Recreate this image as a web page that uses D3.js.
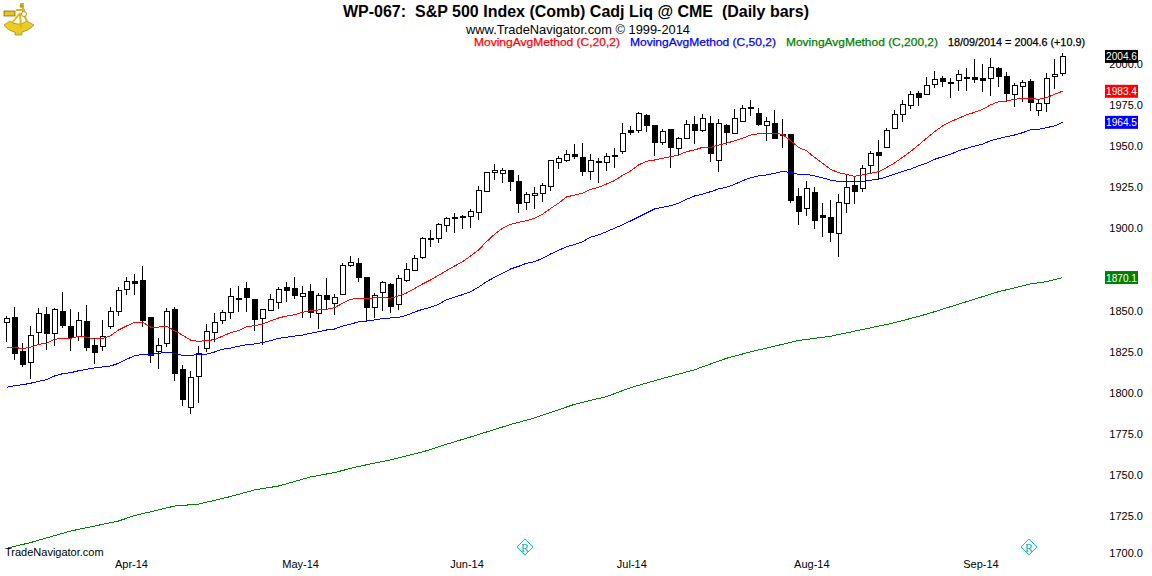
<!DOCTYPE html>
<html>
<head>
<meta charset="utf-8">
<script src="https://cdn.jsdelivr.net/npm/d3@7"></script>
<style>
    html, body { margin: 0; padding: 0; background: #fff; overflow: hidden; }
    text { font-family: "Liberation Sans", Arial, sans-serif; }
</style>
</head>
<body>
<script>
// daily bars
let opens = [
    1842.9,1845.9,1825.2,1818.5,1836.8,1847.7,1836.2,1849.6,1840.4,1834.7,
    1843.5,1828.9,1828.3,1840.4,1849.6,1863,1867.8,1868.4,1845.9,1825.2,
    1830.1,1850.8,1814.3,1791.2,1810,1827.1,1836.8,1844.1,1849,1857,
    1863.6,1856.9,1845.3,1850.2,1855,1864.2,1863.6,1858.7,1861.7,1848.4,
    1859.3,1854.4,1859.9,1877.5,1878.8,1870.2,1852,1861.1,1866,1853.8,
    1868.4,1874.5,1882.8,1893.5,1894,1901.9,1906.7,1906.9,1907.4,1909.8,
    1922.6,1934.1,1933.5,1935.3,1928.6,1915.9,1920.1,1921.3,1925.6,1940.2,
    1941.4,1945.1,1943.2,1934.7,1940.4,1940.2,1944.5,1946.9,1959.7,1959.7,
    1968.8,1962.7,1952.4,1960.3,1948.7,1954.8,1963.3,1959.7,1963.9,1941.4,
    1962.7,1957.8,1965.1,1973.7,1970,1962.7,1963.9,1957.2,1957.2,1919.5,
    1912.2,1922,1908,1906.7,1897,1915.3,1926.2,1924.4,1938.4,1946.3,
    1949.3,1960.9,1969.4,1974.9,1982.2,1981.6,1987.7,1991.3,1988.4,1990.1,
    1991.9,1991.9,1991.3,1991.3,1997.4,1992.5,1981.6,1986.4,1989.5,1971.8,
    1976.1,1992.5,1994.3
];
let highs = [
    1846.7,1852,1830.1,1840.6,1851.4,1852,1851.4,1861.3,1850.8,1849,
    1853.2,1833.1,1844.3,1852,1864.2,1870.2,1872.3,1877.1,1845.9,1833.1,
    1851.4,1852,1816.7,1813.1,1828.3,1841.7,1848.4,1850.2,1863.6,1864.8,
    1867.4,1856.9,1850.8,1859.9,1864.2,1867.4,1870.2,1864.8,1866,1860.7,
    1869.6,1859.9,1878.8,1883,1881.8,1870.3,1860.5,1867.8,1866.6,1871.5,
    1878.8,1883.6,1894.6,1899,1903.1,1906.7,1909.2,1908,1911.6,1925.6,
    1934.1,1939,1936.6,1935.3,1932.3,1922,1925,1927.4,1941.4,1943.9,
    1947.5,1951.2,1951.8,1945.1,1942.6,1945.7,1948.7,1963.9,1962.1,1970.6,
    1969.4,1962.7,1960.3,1960.3,1955.4,1965.8,1968.2,1969.4,1968.2,1966.4,
    1963.3,1972.4,1974.9,1977.9,1973.1,1967.6,1971.8,1966.4,1957.2,1924.4,
    1928.6,1925,1915.3,1917.1,1920.7,1932.9,1931.1,1938.4,1946.9,1953.6,
    1960.9,1971.8,1977.9,1983.4,1983.4,1991.9,1995.6,1992.5,1991.3,1996.2,
    1997.4,2002.9,1999.8,2003.5,1998,1995,1988.3,1990.1,1990.7,1978.5,
    1994.3,2002.9,2006.5
];
let lows = [
    1831.7,1820.7,1816.5,1809.2,1830.5,1826.8,1829.2,1840.2,1826.2,1832.3,
    1826.2,1818.3,1826.2,1839.6,1847.5,1860.1,1860.1,1840.8,1818.9,1815.3,
    1828.6,1808,1792.8,1787.9,1794.4,1825.6,1831.7,1842.3,1845.7,1849.6,
    1849.6,1838,1829.5,1850.2,1851.4,1856,1857.5,1845.9,1846.3,1839.6,
    1850.8,1847.7,1859.9,1876.9,1867.8,1843.5,1845.9,1850.2,1849,1851.1,
    1867.8,1874.5,1881.8,1889.5,1891.9,1898.6,1898,1900.4,1901,1905.9,
    1922.6,1930,1928.4,1923.5,1909.8,1911.6,1912.2,1916.5,1923.2,1936.6,
    1940.8,1942.6,1932.3,1929.9,1928,1935.3,1937.2,1945.7,1957.2,1958.5,
    1959.1,1944.8,1951.2,1937.5,1944.5,1954.8,1952.1,1959.1,1941.2,1935.1,
    1951.2,1957.8,1965.1,1968.8,1962.7,1953.6,1954.8,1949.3,1915.9,1902.5,
    1908,1900.1,1895.2,1892.1,1883,1909.8,1915.6,1922.9,1934.1,1929.9,
    1949.3,1960.9,1965.1,1973.1,1974.9,1981.6,1985.8,1986.4,1979.7,1984.2,
    1984.2,1988.9,1983.4,1981,1986.4,1977.3,1974.3,1977.3,1971.8,1968.8,
    1971.2,1985.2,1993.1
];
let closes = [
    1845.3,1824.4,1817.7,1835.3,1848.4,1836.5,1850.8,1841.4,1834.1,1844.1,
    1827.7,1825,1834.7,1849.6,1862.3,1867.8,1867,1844.5,1822.8,1829.2,
    1849.6,1811.9,1796.4,1809.4,1824.4,1837.4,1842.9,1849,1858.7,1857.7,
    1858.1,1844.7,1850.8,1856.9,1863,1862.3,1859.3,1860.5,1849,1859.3,
    1856.9,1858.1,1877.5,1879.4,1870.2,1852,1859.3,1867.2,1852.6,1869.6,
    1875.1,1881.8,1894,1894.2,1902.5,1906.1,1906.1,1907.5,1910.4,1923.2,
    1934.1,1935.3,1935.3,1928.6,1915.3,1920.7,1921.3,1926.2,1941.4,1942.6,
    1945.1,1944.2,1935.1,1941.4,1941,1943.9,1943.9,1957.8,1958.8,1970,
    1963.1,1952.4,1959.1,1949.7,1954.8,1963.3,1960,1967,1945.7,1963.9,
    1958.5,1967,1973.1,1973.1,1963.3,1965.1,1955.2,1956.6,1917.1,1910.4,
    1924.4,1904.9,1906.7,1897.6,1915.9,1925,1922.6,1936.6,1945.7,1944.5,
    1959.7,1969.4,1975.5,1981.6,1979.7,1987,1990.7,1989.5,1989.1,1993.7,
    1991.3,1990.7,1990.1,1998,1992.5,1982.2,1987,1988.9,1976.7,1976.1,
    1991.3,1993.7,2004.6
];

// moving averages
let ma20 = [
    1827.7,1827.7,1826.8,1827.7,1829.5,1830.1,1832.5,1833.1,1833.1,1834.4,
    1833.8,1832.7,1833.1,1834.7,1838.2,1840.6,1842.9,1842.9,1840,1840,
    1840.6,1837.8,1835.1,1832.1,1831.3,1831.8,1832.3,1834.5,1836.5,1837.8,
    1840.2,1840.8,1841.7,1843.8,1845.5,1846.7,1847.5,1849,1849.9,1850.4,
    1850.8,1851.8,1854.4,1856.9,1857.5,1857.2,1857.8,1858.1,1857.5,1858.9,
    1860.7,1863.4,1866.2,1868.6,1871.5,1874.3,1877.1,1879.7,1883.2,1886.9,
    1891.9,1896.4,1900.1,1902.5,1903.7,1904.7,1906.2,1908.6,1912.1,1915.3,
    1919.1,1920.3,1921.3,1923.8,1925,1927,1929.1,1932.3,1934.9,1938.6,
    1940.8,1941.6,1942.6,1943.6,1944.6,1946.7,1947.7,1949.3,1949.3,1950.7,
    1951.8,1953.3,1954.8,1956.8,1957.6,1957.8,1957.8,1957.2,1953.5,1949.3,
    1947.2,1943.2,1939.6,1935.9,1933.9,1932.9,1931.7,1932.5,1933.5,1934.5,
    1937,1939.8,1943.2,1946.7,1950.7,1954.8,1958.8,1962.3,1964.9,1967,
    1969,1970.6,1972.4,1975.1,1977.1,1977.5,1978.5,1979.1,1979.1,1978.5,
    1979.5,1981.6,1983.4
];
let ma50 = [
    1803.3,1804.3,1804.9,1805.8,1807,1808,1810.2,1811.6,1812.2,1813.4,
    1814.3,1815.1,1815.7,1816.3,1817.9,1820.4,1822.4,1823.4,1823.4,1824,
    1824.6,1824,1822.8,1822.8,1823.2,1823.5,1824.8,1826.5,1827.2,1828.3,
    1829.2,1829.7,1830.5,1831.7,1833.1,1833.8,1834.5,1835.1,1836.2,1837.2,
    1838.2,1838.8,1840.6,1841.8,1843.1,1843.7,1844.3,1845.1,1845.5,1845.9,
    1847.1,1849.1,1850.8,1852,1853.8,1856.6,1858.1,1859.7,1861.5,1864.2,
    1867.6,1870.2,1872.7,1875.3,1876.9,1878.8,1879.7,1881.8,1884.4,1886.6,
    1888.9,1890.1,1891.9,1894.6,1896,1898,1900.1,1902.2,1904.5,1906.9,
    1909.4,1911.8,1912.8,1913.8,1915.3,1917.7,1919.7,1920.9,1922.3,1924,
    1925,1926.8,1929,1930.8,1931.9,1932.5,1933.5,1934.6,1934.1,1932.9,
    1932.9,1931.9,1930.8,1929.4,1928.6,1928.6,1928.6,1928.6,1929.3,1929.9,
    1931.3,1933,1934.7,1936.1,1938,1939.6,1942,1943.6,1945.1,1947.1,
    1948.7,1950.1,1951.3,1953.3,1954.6,1955.8,1956.8,1958.2,1959.9,1960.3,
    1961.3,1962.3,1964.5
];
let ma200Bars = [0,3,8,14,16,21,24,28,31,34,38,41,44,48,52,55,58,63,66,71,75,78,82,86,90,93,99,103,107,111,115,120,124,128,130,132];
let ma200 = [
    1705.4,1708.9,1715.9,1722,1725.3,1731.1,1732.3,1736.9,1740.9,1743.3,
    1748.8,1751.5,1755.2,1759.2,1764,1768.7,1773.1,1780.7,1784.7,1793,
    1797.7,1803.1,1808.7,1814,1821,1824.9,1831.8,1834.4,1838.5,1842.6,
    1847.8,1855.4,1861.5,1866.2,1867.6,1870.1
];

// axis labels and flags (1875.0 is not printed, the green box takes its place)
let priceTicks = [2000,1975,1950,1925,1900,1850,1825,1800,1775,1750,1725,1700];
let monthBars = [15.56,36.7,57.5,78.1,100.6,121.75];
let monthLabels = ["Apr-14","May-14","Jun-14","Jul-14","Aug-14","Sep-14"];
let flagBars = [64.8,127.8];
let lastValues = [2004.6,1983.4,1964.5,1870.1];
let lastColors = ["#000000","#ff0000","#0000ff","#008000"];
let legendLabels = ["MovingAvgMethod (C,20,2)","MovingAvgMethod (C,50,2)","MovingAvgMethod (C,200,2)","18/09/2014 = 2004.6 (+10.9)"];
let legendColors = ["#ff0000","#0000ff","#008000","#000000"];
let legendX = [474,630,786,948];
let legendW = [146,146,152,137];

let width = 1152;
let height = 576;

let svg = d3.select("body")
    .append("svg")
    .attr("width", width)
    .attr("height", height)
    .style("display", "block");

let x = d3.scaleLinear().domain([0, 132]).range([6.5, 1062.5]);
let y = d3.scaleLinear().domain([1700, 2000]).range([557.2, 64]);

// price axis
let axisY = d3.axisRight(y)
    .tickValues(priceTicks)
    .tickSize(0)
    .tickFormat(d3.format(".1f"));
let gY = svg.append("g")
    .attr("transform", "translate(1143, 0)")
    .call(axisY);
gY.select(".domain").remove();
gY.selectAll("text")
    .attr("x", 0)
    .attr("text-anchor", "end")
    .style("font-size", "11px")
    .attr("fill", "#000");
// lowest label sits above its level in the original
gY.selectAll(".tick").filter(d => d === 1700).select("text").attr("dy", "-0.05em");

// month axis
let axisX = d3.axisBottom(x)
    .tickValues(monthBars)
    .tickSize(0)
    .tickFormat((d, i) => monthLabels[i]);
let gX = svg.append("g")
    .attr("transform", "translate(0, 557)")
    .call(axisX);
gX.select(".domain").remove();
gX.selectAll("text")
    .attr("y", 3)
    .style("font-size", "11px")
    .attr("fill", "#000");

// candles
let bars = d3.range(opens.length);
let candles = svg.append("g").attr("shape-rendering", "crispEdges");
candles.selectAll("line")
    .data(bars)
    .join("line")
    .attr("x1", i => x(i))
    .attr("x2", i => x(i))
    .attr("y1", i => Math.round(y(highs[i])))
    .attr("y2", i => Math.round(y(lows[i])) + 1)
    .attr("stroke", "#000")
    .attr("stroke-width", 1);
candles.selectAll("rect")
    .data(bars)
    .join("rect")
    .attr("x", i => x(i) - 2)
    .attr("width", 5)
    .attr("y", i => Math.round(y(Math.max(opens[i], closes[i]))) + 0.5)
    .attr("height", i => Math.round(y(Math.min(opens[i], closes[i]))) - Math.round(y(Math.max(opens[i], closes[i]))))
    .attr("fill", i => closes[i] >= opens[i] ? "#fff" : "#000")
    .attr("stroke", "#000")
    .attr("stroke-width", 1);

// moving averages
let line = d3.line().x(d => x(d[0])).y(d => y(d[1]));
let maLines = [
    [bars.map(i => [i, ma20[i]]), "#ff0000"],
    [bars.map(i => [i, ma50[i]]), "#0000ff"],
    [ma200Bars.map((b, i) => [b, ma200[i]]), "#008000"]
];
svg.append("g").selectAll("path")
    .data(maLines)
    .join("path")
    .attr("d", d => line(d[0]))
    .attr("fill", "none")
    .attr("stroke", d => d[1])
    .attr("stroke-width", 1)
    .attr("shape-rendering", "crispEdges");

// last value boxes
svg.append("g").selectAll("rect")
    .data(lastValues)
    .join("rect")
    .attr("x", 1105)
    .attr("width", 33)
    .attr("y", d => y(d) - 6.5)
    .attr("height", 13)
    .attr("fill", (d, i) => lastColors[i]);
svg.append("g").selectAll("text")
    .data(lastValues)
    .join("text")
    .attr("x", 1121.5)
    .attr("y", d => y(d) + 4)
    .attr("text-anchor", "middle")
    .attr("fill", "#fff")
    .attr("textLength", 31)
    .attr("lengthAdjust", "spacingAndGlyphs")
    .style("font-size", "11px")
    .text(d => d.toFixed(1));

// title block
svg.append("text")
    .attr("x", 576)
    .attr("y", 17)
    .attr("text-anchor", "middle")
    .attr("xml:space", "preserve")
    .style("white-space", "pre")
    .style("font-size", "16px")
    .style("font-weight", "bold")
    .text("WP-067:  S&P 500 Index (Comb) Cadj Liq @ CME  (Daily bars)");
svg.append("text")
    .attr("x", 466)
    .attr("y", 34)
    .attr("textLength", 224)
    .attr("lengthAdjust", "spacingAndGlyphs")
    .style("font-size", "13px")
    .text("www.TradeNavigator.com © 1999-2014");
svg.append("g").selectAll("text")
    .data(legendLabels)
    .join("text")
    .attr("x", (d, i) => legendX[i])
    .attr("y", 46)
    .attr("fill", (d, i) => legendColors[i])
    .attr("stroke", (d, i) => legendColors[i])
    .attr("stroke-width", 0.25)
    .attr("textLength", (d, i) => legendW[i])
    .attr("lengthAdjust", "spacingAndGlyphs")
    .style("font-size", "11px")
    .text(d => d);

svg.append("text")
    .attr("x", 5)
    .attr("y", 556)
    .style("font-size", "11px")
    .text("TradeNavigator.com");

// R flags
let flags = svg.append("g").selectAll("g")
    .data(flagBars)
    .join("g")
    .attr("transform", d => `translate(${x(d)}, 547)`);
flags.append("path")
    .attr("d", "M0,-8L8,0L0,8L-8,0Z")
    .attr("fill", "none")
    .attr("stroke", "#00c8c8")
    .attr("stroke-width", 1)
    .attr("shape-rendering", "crispEdges");
flags.append("text")
    .attr("y", 4.5)
    .attr("text-anchor", "middle")
    .attr("fill", "#00b8b8")
    .style("font-family", "'Liberation Serif', serif")
    .style("font-size", "12px")
    .text("R");

// sextant logo
let logo = svg.append("g");
logo.append("rect").attr("x", 4).attr("y", 11).attr("width", 11).attr("height", 5).attr("fill", "#e8c41c").attr("stroke", "#6b5a10").attr("stroke-width", 0.7);
logo.append("path")
    .attr("d", "M4,25 L10,21 Q18,27 27,21 L34,25 Q29,31 22,32 L22,35 L15,35 L15,32 Q8,31 4,25Z")
    .attr("fill", "#eccb22")
    .attr("stroke", "#8a7414")
    .attr("stroke-width", 0.6);
logo.append("path")
    .attr("d", "M20,4 L23,4 L23,13 L27,21 M20,13 L12,23 M20,13 L21,28 M16,10 L25,10")
    .attr("fill", "none")
    .attr("stroke", "#dcb818")
    .attr("stroke-width", 2);
logo.append("circle").attr("cx", 21.5).attr("cy", 6).attr("r", 2).attr("fill", "#c8a414");
logo.append("circle").attr("cx", 24).attr("cy", 14).attr("r", 2.5).attr("fill", "#fff").attr("stroke", "#b09010").attr("stroke-width", 1);
</script>
</body>
</html>
